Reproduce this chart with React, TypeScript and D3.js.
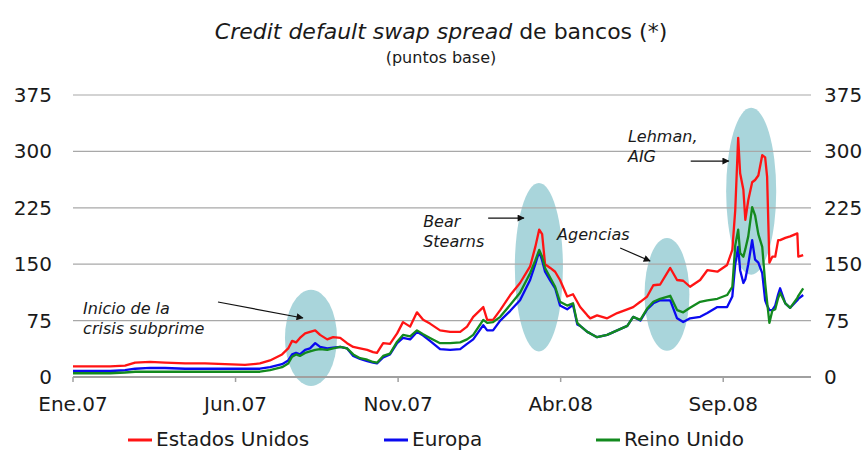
import React from 'react';
import * as d3 from 'd3';

// months since 1 Jan 2007 (fractional)
const months = [
  0, 0.52, 1.14, 1.6, 1.91, 2.37, 2.83, 3.45, 4.06, 4.68, 5.29, 5.75, 6.06, 6.43, 6.62, 6.74, 6.86, 6.98,
  7.14, 7.29, 7.45, 7.6, 7.82, 8.0, 8.22, 8.43, 8.62, 8.83, 9.05, 9.23, 9.35, 9.54, 9.75, 9.97, 10.15,
  10.37, 10.58, 10.77, 10.98, 11.29, 11.6, 11.91, 12.12, 12.31, 12.62, 12.74, 12.92, 13.14, 13.45, 13.75,
  14.06, 14.22, 14.34, 14.43, 14.52, 14.68, 14.83, 14.98, 15.2, 15.38, 15.51, 15.6, 15.82, 15.91, 16.12,
  16.43, 16.74, 17.05, 17.23, 17.45, 17.66, 17.85, 18.06, 18.37, 18.58, 18.77, 18.98, 19.29, 19.51,
  19.82, 20.12, 20.28, 20.37, 20.46, 20.52, 20.62, 20.68, 20.77, 20.89, 20.98, 21.08, 21.2, 21.29,
  21.35, 21.42, 21.51, 21.6, 21.69, 21.75, 21.91, 22.06, 22.28, 22.31, 22.46,
];

const estadosUnidos = [
  14, 14, 14, 15, 19, 20, 19, 18, 18, 17, 16, 18, 22, 30, 38, 48, 46, 52,
  58, 60, 62, 56, 50, 53, 52, 45, 40, 38, 36, 33, 32, 45, 44, 58, 73,
  67, 86, 76, 71, 62, 60, 60, 67, 80, 93, 76, 76, 89, 109, 125,
  147, 173, 196, 190, 150, 145, 140, 129, 107, 110, 100, 93, 82, 78, 82,
  78, 85, 90, 93, 100, 107, 122, 123, 145, 129, 128, 120, 129, 142,
  140, 149, 169, 222, 318, 271, 249, 209, 235, 259, 262, 268, 295, 292,
  266, 152, 160, 160, 182, 182, 185, 187, 191, 160, 162,
];

const europa = [
  8, 8, 8, 9, 11, 12, 12, 11, 11, 11, 11, 11, 13, 17, 22, 30, 32, 30,
  36, 38, 45, 40, 38, 39, 40, 38, 28, 24, 21, 19, 18, 26, 30, 45, 52,
  50, 60, 55, 48, 37, 36, 37, 44, 50, 69, 62, 62, 75, 88, 102,
  129, 150, 167, 155, 140, 128, 118, 95, 90, 96, 70, 68, 60, 58, 53,
  56, 62, 68, 80, 75, 90, 98, 102, 102, 78, 73, 78, 80, 85,
  93, 93, 107, 150, 173, 142, 125, 130, 150, 182, 156, 152, 138, 102,
  95, 89, 89, 95, 110, 118, 98, 92, 102, 104, 109,
];

const reinoUnido = [
  5, 5, 5, 6, 7, 7, 7, 7, 7, 7, 7, 7, 9, 13, 18, 27, 30, 28,
  32, 34, 36, 37, 36, 38, 40, 38, 30, 25, 23, 20, 19, 28, 31, 47, 56,
  54, 62, 57, 52, 45, 45, 46, 50, 56, 76, 72, 73, 80, 96, 112,
  138, 155, 169, 160, 145, 132, 120, 100, 95, 98, 72, 68, 60, 58, 53,
  56, 62, 68, 80, 76, 91, 100, 104, 108, 89, 86, 92, 100, 102,
  104, 109, 120, 175, 196, 165, 160, 170, 187, 226, 215, 190, 173, 125,
  100, 72, 88, 90, 105, 112, 98, 92, 105, 108, 118,
];

const seriesNames = ['Estados Unidos', 'Europa', 'Reino Unido'];
const seriesColors = ['#ff1414', '#0a0af0', '#138a1e'];

const yTicks = [0, 75, 150, 225, 300, 375];
const xTickMonths = [0, 5, 10, 15, 20];
const xTickLabels = ['Ene.07', 'Jun.07', 'Nov.07', 'Abr.08', 'Sep.08'];

// highlight ellipses in data units: centre month, centre value, radius months, radius value
const highlightMonth = [7.32, 14.33, 18.27, 20.86];
const highlightValue = [52, 146, 110, 247];
const highlightRMonth = [0.8, 0.74, 0.69, 0.77];
const highlightRValue = [64, 112, 75, 111];

// annotation labels (month, value of baseline, lines)
const noteMonth = [0.31, 10.77, 14.89, 17.07];
const noteValue = [84, 199.5, 182, 312.5];
const noteLines = [['Inicio de la', 'crisis subprime'], ['Bear', 'Stearns'], ['Agencias'], ['Lehman,', 'AIG']];
// arrows: from (month, value) to (month, value)
const arrowFromMonth = [4.46, 12.77, 16.83, 19.0];
const arrowFromValue = [99.7, 211.4, 171.5, 287.2];
const arrowToMonth = [7.07, 13.87, 17.75, 20.17];
const arrowToValue = [78.5, 211.4, 154.3, 287.2];

const W = 863;
const H = 451;
const FONT = '"DejaVu Sans", Verdana, sans-serif';

export default function App() {
  const x = d3.scaleLinear().domain([0, 22.7]).range([73, 811]);
  const y = d3.scaleLinear().domain([0, 375]).range([377, 95]);

  const series = [estadosUnidos, europa, reinoUnido];
  const line = d3
    .line<number>()
    .x((_, i) => x(months[i]))
    .y((d) => y(d));

  return (
    <svg
      width={W}
      height={H}
      style={{ position: 'absolute', left: 0, top: 0, background: '#fff' }}
      fontFamily={FONT}
    >
      <defs>
        <marker id="arrowhead" viewBox="0 0 10 10" refX="9" refY="5" markerWidth="9" markerHeight="7" orient="auto" markerUnits="userSpaceOnUse">
          <path d="M0,0 L10,5 L0,10 z" fill="#111" />
        </marker>
      </defs>

      {/* title */}
      <text x={441} y={39} textAnchor="middle" fontSize={22} fill="#1a1a1a">
        <tspan fontStyle="italic">Credit default swap spread</tspan>
        <tspan> de bancos (*)</tspan>
      </text>
      <text x={441} y={63} textAnchor="middle" fontSize={16} fill="#1a1a1a">
        (puntos base)
      </text>

      {/* highlight ellipses */}
      {highlightMonth.map((m, i) => (
        <ellipse
          key={'e' + i}
          cx={x(m)}
          cy={y(highlightValue[i])}
          rx={x(highlightRMonth[i]) - x(0)}
          ry={y(0) - y(highlightRValue[i])}
          fill="#a9d5db"
        />
      ))}

      {/* gridlines */}
      {yTicks.filter((t) => t > 0).map((t) => (
        <line key={'g' + t} x1={x(0)} x2={x(22.7)} y1={y(t)} y2={y(t)} stroke="#a8a8a8" strokeWidth={1.2} />
      ))}

      {/* x axis */}
      <line x1={x(0)} x2={x(22.7)} y1={y(0)} y2={y(0)} stroke="#a0a0a0" strokeWidth={2} />
      {xTickMonths.map((m, i) => (
        <g key={'xt' + i}>
          <line x1={x(m)} x2={x(m)} y1={y(0)} y2={y(0) + 5} stroke="#a0a0a0" strokeWidth={1.5} />
          <text x={x(m)} y={y(0) + 34} textAnchor="middle" fontSize={20} fill="#1a1a1a">
            {xTickLabels[i]}
          </text>
        </g>
      ))}

      {/* y tick labels, left and right */}
      {yTicks.map((t) => (
        <g key={'yt' + t}>
          <text x={52} y={y(t) + 7} textAnchor="end" fontSize={20} fill="#1a1a1a">
            {t}
          </text>
          <text x={824} y={y(t) + 7} textAnchor="start" fontSize={20} fill="#1a1a1a">
            {t}
          </text>
        </g>
      ))}

      {/* series */}
      {series.map((s, i) => (
        <path key={'s' + i} d={line(s) || ''} fill="none" stroke={seriesColors[i]} strokeWidth={2.3} strokeLinejoin="round" />
      ))}

      {/* annotations */}
      {noteMonth.map((m, i) => (
        <text key={'n' + i} x={x(m)} y={y(noteValue[i])} fontSize={16} fontStyle="italic" fill="#1a1a1a">
          {noteLines[i].map((t, j) => (
            <tspan key={j} x={x(m)} dy={j === 0 ? 0 : 20}>
              {t}
            </tspan>
          ))}
        </text>
      ))}
      {arrowFromMonth.map((m, i) => (
        <line
          key={'a' + i}
          x1={x(m)}
          y1={y(arrowFromValue[i])}
          x2={x(arrowToMonth[i])}
          y2={y(arrowToValue[i])}
          stroke="#111"
          strokeWidth={1.2}
          markerEnd="url(#arrowhead)"
        />
      ))}

      {/* legend */}
      {seriesNames.map((n, i) => {
        const lx = [128, 384, 596][i];
        return (
          <g key={'l' + i}>
            <line x1={lx} x2={lx + 24} y1={440} y2={440} stroke={seriesColors[i]} strokeWidth={3} />
            <text x={lx + 28} y={446} fontSize={20} fill="#1a1a1a">
              {n}
            </text>
          </g>
        );
      })}
    </svg>
  );
}
